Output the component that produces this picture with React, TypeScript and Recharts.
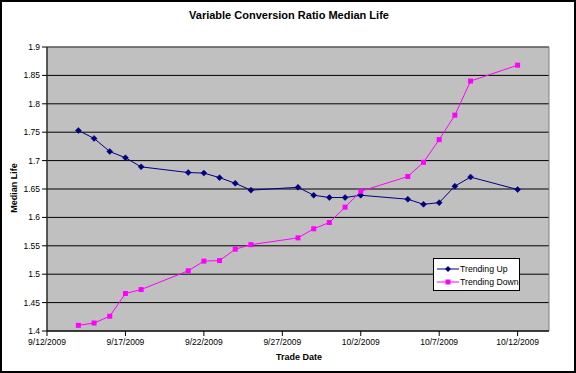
import React from "react";
import {
  LineChart,
  Line,
  XAxis,
  YAxis,
  CartesianGrid,
  ReferenceArea,
} from "recharts";

const tradeDates = [
  "9/14/2009", "9/15/2009", "9/16/2009", "9/17/2009", "9/18/2009",
  "9/21/2009", "9/22/2009", "9/23/2009", "9/24/2009", "9/25/2009",
  "9/28/2009", "9/29/2009", "9/30/2009", "10/1/2009", "10/2/2009",
  "10/5/2009", "10/6/2009", "10/7/2009", "10/8/2009", "10/9/2009",
  "10/12/2009",
];

const trendingUp = [
  1.753, 1.739, 1.716, 1.705, 1.689,
  1.679, 1.678, 1.67, 1.66, 1.648,
  1.653, 1.639, 1.635, 1.635, 1.639,
  1.632, 1.623, 1.626, 1.655, 1.671,
  1.649,
];

const trendingDown = [
  1.41, 1.414, 1.426, 1.466, 1.473,
  1.506, 1.523, 1.524, 1.544, 1.552,
  1.564, 1.58, 1.591, 1.618, 1.646,
  1.672, 1.697, 1.737, 1.78, 1.84,
  1.868,
];

const xTickLabels = [
  "9/12/2009", "9/17/2009", "9/22/2009", "9/27/2009",
  "10/2/2009", "10/7/2009", "10/12/2009",
];

const yTicks = [1.4, 1.45, 1.5, 1.55, 1.6, 1.65, 1.7, 1.75, 1.8, 1.85, 1.9];

const seriesNames = ["Trending Up", "Trending Down"];

const FONT = "'Liberation Sans', Arial, sans-serif";
const DAY = 86400000;
const origin = new Date(xTickLabels[0]).getTime();
const dayOf = (s: string) => Math.round((new Date(s).getTime() - origin) / DAY);

const xTicks = xTickLabels.map(dayOf);
const lastDay = xTicks[xTicks.length - 1] + 2;

const data = tradeDates.map((d, i) => ({
  day: dayOf(d),
  up: trendingUp[i],
  down: trendingDown[i],
}));

const UP = "#000080";
const DOWN = "#FF00FF";

const Diamond = (props: any) => {
  const { cx, cy } = props;
  if (cx == null || cy == null) return null;
  const r = 3;
  return (
    <polygon
      points={`${cx},${cy - r} ${cx + r},${cy} ${cx},${cy + r} ${cx - r},${cy}`}
      fill={UP}
      stroke={UP}
      strokeWidth={0.5}
    />
  );
};

const Square = (props: any) => {
  const { cx, cy } = props;
  if (cx == null || cy == null) return null;
  return <rect x={cx - 2.5} y={cy - 2.5} width={5} height={5} fill={DOWN} />;
};

// legend drawn as an overlay so it doesn't eat plot height
const LegendBox = () => (
  <div
    style={{
      position: "absolute",
      left: 431,
      top: 256,
      width: 87,
      height: 33,
      boxSizing: "border-box",
      border: "1px solid #000",
      background: "#fff",
      fontFamily: FONT,
      fontSize: 8.7,
      color: "#000",
      padding: "3px 0 0 3px",
      whiteSpace: "nowrap",
    }}
  >
    {seriesNames.map((name, i) => (
      <div key={name} style={{ display: "flex", alignItems: "center", height: 13 }}>
        <svg width={22} height={8} style={{ marginRight: 1 }}>
          <line x1={0} y1={4} x2={22} y2={4} stroke={i ? DOWN : UP} strokeWidth={1} />
          {i ? (
            <rect x={8.5} y={1.5} width={5} height={5} fill={DOWN} />
          ) : (
            <polygon points="11,1 14,4 11,7 8,4" fill={UP} />
          )}
        </svg>
        <span>{name}</span>
      </div>
    ))}
  </div>
);

export default function App() {
  return (
    <div
      style={{
        position: "absolute",
        left: 0,
        top: 0,
        width: 576,
        height: 373,
        background: "#fff",
        border: "2px solid #000",
        boxSizing: "border-box",
        fontFamily: FONT,
      }}
    >
      <div style={{ position: "absolute", left: -2, top: -2 }}>
        <LineChart
          width={576}
          height={373}
          data={data}
          margin={{ top: 47, right: 27, left: 10, bottom: 12 }}
        >
          <CartesianGrid vertical={false} fill="#C0C0C0" stroke="#000" strokeWidth={1} />
          <ReferenceArea
            x1={0}
            x2={lastDay}
            y1={1.4}
            y2={1.9}
            fill="none"
            stroke="#808080"
            strokeWidth={1}
            fillOpacity={0}
          />
          <XAxis
            type="number"
            dataKey="day"
            domain={[0, lastDay]}
            ticks={xTicks}
            tickFormatter={(v: number) => xTickLabels[xTicks.indexOf(v)] ?? ""}
            height={30}
            tickSize={5}
            tickMargin={3}
            axisLine={{ stroke: "#000" }}
            tickLine={{ stroke: "#000" }}
            tick={{ fill: "#000", fontSize: 8.5, fontFamily: FONT }}
            allowDataOverflow
          />
          <YAxis
            type="number"
            domain={[1.4, 1.9]}
            ticks={yTicks}
            tickFormatter={(v: number) => String(Number(v.toFixed(2)))}
            width={37}
            tickSize={5}
            tickMargin={2}
            axisLine={{ stroke: "#000" }}
            tickLine={{ stroke: "#000" }}
            tick={{ fill: "#000", fontSize: 8.5, fontFamily: FONT }}
            allowDataOverflow
          />
          <Line
            dataKey="up"
            name={seriesNames[0]}
            stroke={UP}
            strokeWidth={1}
            dot={<Diamond />}
            activeDot={false}
            isAnimationActive={false}
          />
          <Line
            dataKey="down"
            name={seriesNames[1]}
            stroke={DOWN}
            strokeWidth={1}
            dot={<Square />}
            activeDot={false}
            isAnimationActive={false}
          />
        </LineChart>
      </div>
      <div
        style={{
          position: "absolute",
          left: -1,
          width: 576,
          top: 7,
          textAlign: "center",
          fontSize: 11,
          fontWeight: "bold",
        }}
      >
        Variable Conversion Ratio Median Life
      </div>
      <div
        style={{
          position: "absolute",
          left: 12,
          top: 186,
          transform: "translate(-50%, -50%) rotate(-90deg)",
          fontSize: 9,
          fontWeight: "bold",
          whiteSpace: "nowrap",
        }}
      >
        Median Life
      </div>
      <div
        style={{
          position: "absolute",
          left: 0,
          width: 594,
          top: 350,
          textAlign: "center",
          fontSize: 9,
          fontWeight: "bold",
        }}
      >
        Trade Date
      </div>
      <LegendBox />
    </div>
  );
}
